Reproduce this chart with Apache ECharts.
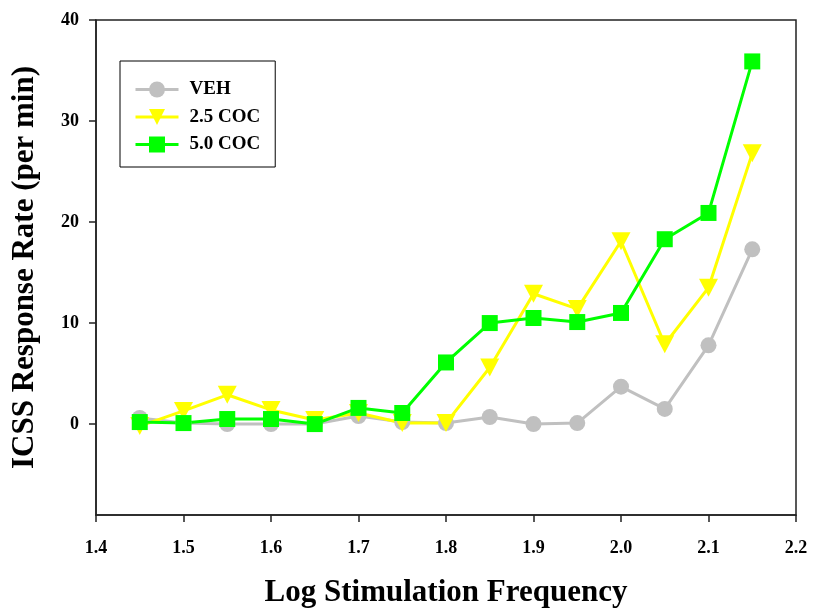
<!DOCTYPE html>
<html>
<head>
<meta charset="utf-8">
<script src="https://cdn.jsdelivr.net/npm/echarts@6/dist/echarts.min.js"></script>
<style>html,body{margin:0;padding:0;background:#fff}#c{width:814px;height:608px}</style>
</head>
<body>
<div id="c"></div>
<script>
const freq = [1.45, 1.50, 1.55, 1.60, 1.65, 1.70, 1.75, 1.80, 1.85, 1.90, 1.95, 2.00, 2.05, 2.10, 2.15];
const veh = [0.6, 0.1, 0.0, 0.0, 0.0, 0.8, 0.2, 0.1, 0.7, 0.0, 0.1, 3.7, 1.5, 7.8, 17.3];
const coc25 = [-0.2, 1.3, 2.9, 1.4, 0.4, 1.1, 0.1, 0.1, 5.6, 12.9, 11.4, 18.1, 7.9, 13.5, 26.8];
const coc50 = [0.2, 0.1, 0.5, 0.5, 0.0, 1.6, 1.1, 6.1, 10.0, 10.5, 10.1, 11.0, 18.3, 20.9, 35.9];
const seriesNames = ['VEH', '2.5 COC', '5.0 COC'];
const yTickValues = [0, 10, 20, 30, 40];

const font = 'Liberation Serif';
const pair = arr => freq.map((f, i) => [f, arr[i]]);

const chart = echarts.init(document.getElementById('c'));
chart.setOption({
  animation: false,
  backgroundColor: '#fff',
  grid: { left: 96, right: 18, top: 20, bottom: 93, containLabel: false, outerBoundsMode: 'none',
          show: true, borderColor: '#222', borderWidth: 1.5, backgroundColor: 'transparent' },
  legend: {
    orient: 'vertical', left: 120, top: 61,
    padding: [19, 15, 13, 14],
    borderColor: '#000', borderWidth: 1,
    itemWidth: 43, itemHeight: 20, itemGap: 8.5,
    data: seriesNames,
    lineStyle: { width: 3 },
    textStyle: { fontFamily: font, fontWeight: 'bold', fontSize: 19, color: '#000', padding: [0, 0, 0, 6] }
  },
  xAxis: {
    type: 'value', min: 1.4, max: 2.2, interval: 0.1,
    name: 'Log Stimulation Frequency', nameLocation: 'middle', nameGap: 62,
    nameTextStyle: { fontFamily: font, fontWeight: 'bold', fontSize: 31, color: '#000' },
    axisLine: { show: true, onZero: false, lineStyle: { color: '#222', width: 1.5 } },
    axisTick: { show: true, inside: false, length: 7, lineStyle: { color: '#222', width: 1.5 } },
    axisLabel: { margin: 24, fontFamily: font, fontWeight: 'bold', fontSize: 18, color: '#000', formatter: v => v.toFixed(1) },
    splitLine: { show: false }
  },
  yAxis: {
    type: 'value', min: -9, max: 40,
    name: 'ICSS Response Rate (per min)', nameLocation: 'middle', nameGap: 56,
    nameTextStyle: { fontFamily: font, fontWeight: 'bold', fontSize: 31, color: '#000' },
    axisLine: { show: true, onZero: false, lineStyle: { color: '#222', width: 1.5 } },
    axisTick: { show: true, inside: false, length: 7, customValues: yTickValues, lineStyle: { color: '#222', width: 1.5 } },
    axisLabel: { margin: 17, fontFamily: font, fontWeight: 'bold', fontSize: 18, color: '#000', customValues: yTickValues },
    splitLine: { show: false }
  },
  series: [
    { name: seriesNames[0], type: 'line', data: pair(veh), symbol: 'circle', symbolSize: 16,
      lineStyle: { color: '#c0c0c0', width: 3 }, itemStyle: { color: '#c0c0c0' } },
    { name: seriesNames[1], type: 'line', data: pair(coc25), symbol: 'triangle', symbolRotate: 180, symbolSize: [19, 18],
      lineStyle: { color: '#ffff00', width: 3 }, itemStyle: { color: '#ffff00' } },
    { name: seriesNames[2], type: 'line', data: pair(coc50), symbol: 'rect', symbolSize: 16,
      lineStyle: { color: '#00ff00', width: 3 }, itemStyle: { color: '#00ff00' } }
  ]
});
</script>
</body>
</html>
